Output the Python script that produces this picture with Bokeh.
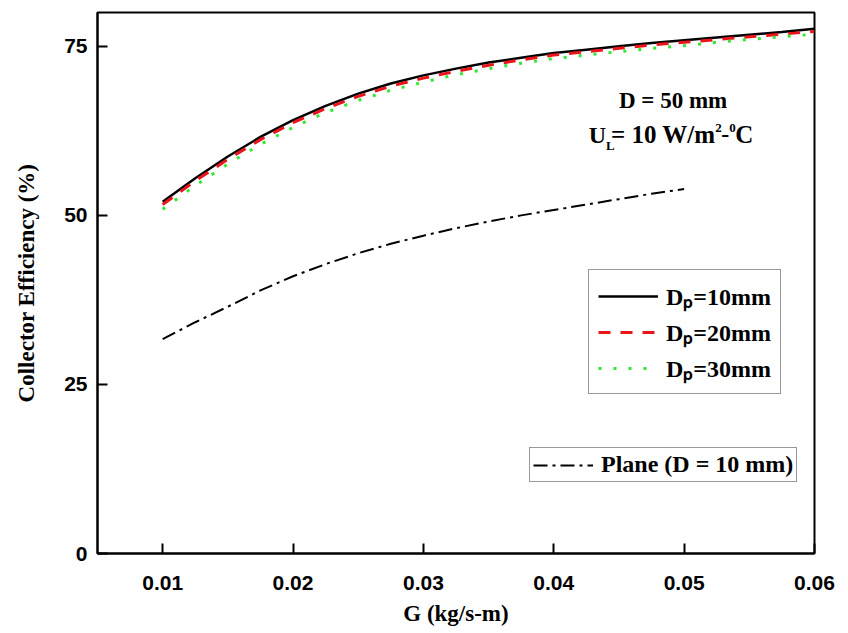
from bokeh.plotting import figure
from bokeh.models import Range1d, FixedTicker, Legend, LegendItem, Label
from bokeh.embed import file_html
from bokeh.resources import INLINE

# ---- data ----
G = [0.01, 0.0125, 0.015, 0.0175, 0.02, 0.0225, 0.025, 0.0275, 0.03, 0.0325, 0.035,
     0.0375, 0.04, 0.0425, 0.045, 0.0475, 0.05, 0.0525, 0.055, 0.0575, 0.06]
eff_dp10 = [52.0, 55.5, 58.7, 61.6, 64.1, 66.2, 68.0, 69.5, 70.7, 71.7, 72.6,
            73.3, 74.0, 74.5, 75.0, 75.5, 75.9, 76.3, 76.7, 77.1, 77.6]
eff_dp20 = [51.6, 55.1, 58.3, 61.2, 63.7, 65.8, 67.6, 69.1, 70.3, 71.3, 72.2,
            73.0, 73.7, 74.2, 74.7, 75.2, 75.6, 76.0, 76.4, 76.8, 77.2]
eff_dp30 = [50.9, 54.4, 57.6, 60.5, 63.0, 65.2, 67.0, 68.5, 69.7, 70.8, 71.7,
            72.5, 73.2, 73.7, 74.2, 74.7, 75.1, 75.6, 76.0, 76.4, 76.8]
G_plane = [0.01, 0.0125, 0.015, 0.0175, 0.02, 0.0225, 0.025, 0.0275, 0.03,
           0.0325, 0.035, 0.0375, 0.04, 0.0425, 0.045, 0.0475, 0.05]
eff_plane = [31.7, 34.2, 36.5, 38.9, 41.0, 42.8, 44.4, 45.8, 47.0,
             48.1, 49.1, 50.0, 50.8, 51.6, 52.4, 53.2, 53.9]

x_ticks = [0.01, 0.02, 0.03, 0.04, 0.05, 0.06]
x_tick_labels = ["0.01", "0.02", "0.03", "0.04", "0.05", "0.06"]
y_ticks = [0, 25, 50, 75]
y_tick_labels = ["0", "25", "50", "75"]

labels = ["Dₚ=10mm", "Dₚ=20mm", "Dₚ=30mm"]
plane_label = "Plane (D = 10 mm)"
x_title = "G (kg/s-m)"
y_title = "Collector Efficiency (%)"

SERIF = "Liberation Serif"
SANS = "Liberation Sans"

p = figure(width=848, height=633, output_backend="svg", toolbar_location=None,
           x_range=Range1d(0.005, 0.06), y_range=Range1d(0, 80),
           min_border_left=97, min_border_right=34, min_border_top=12,
           min_border_bottom=80)
p.grid.visible = False
p.outline_line_color = "black"
p.outline_line_width = 2
p.background_fill_color = "white"
p.border_fill_color = "white"

for ax in (p.xaxis[0], p.yaxis[0]):
    ax.axis_line_width = 2
    ax.axis_line_color = "black"
    ax.major_tick_in = 10
    ax.major_tick_out = 0
    ax.major_tick_line_width = 2
    ax.minor_tick_line_color = None
    ax.major_label_text_font = SANS
    ax.major_label_text_font_style = "bold"
    ax.major_label_text_font_size = "21px"
    ax.major_label_text_color = "black"
    ax.axis_label_text_font = SERIF
    ax.axis_label_text_font_style = "bold"
    ax.axis_label_text_font_size = "23px"
    ax.axis_label_text_color = "black"

p.xaxis[0].ticker = FixedTicker(ticks=x_ticks)
p.xaxis[0].major_label_overrides = {t: l for t, l in zip(x_ticks, x_tick_labels)}
p.yaxis[0].ticker = FixedTicker(ticks=y_ticks)
p.yaxis[0].major_label_overrides = {t: l for t, l in zip(y_ticks, y_tick_labels)}
p.xaxis[0].axis_label = x_title
p.yaxis[0].axis_label = y_title
p.xaxis[0].major_label_standoff = 22
p.xaxis[0].axis_label_standoff = 8
p.yaxis[0].major_label_standoff = 10
p.yaxis[0].axis_label_standoff = 22

r1 = p.line(G, eff_dp10, line_color="black", line_width=2.5)
r2 = p.line(G, eff_dp20, line_color="#e8151b", line_width=3, line_dash="12 10")
r3 = p.line(G, eff_dp30, line_color="#33e633", line_width=3, line_dash="3 12")
r4 = p.line(G_plane, eff_plane, line_color="black", line_width=2, line_dash="14 5 3 5")

def style_legend(lg, pad):
    lg.label_text_font = SERIF
    lg.label_text_font_style = "bold"
    lg.label_text_font_size = "24px"
    lg.label_text_color = "black"
    lg.border_line_color = "#333333"
    lg.border_line_width = 1
    lg.background_fill_alpha = 1
    lg.glyph_width = 60
    lg.label_standoff = 8
    lg.padding = pad
    lg.margin = 0

leg1 = Legend(items=[LegendItem(label=labels[0], renderers=[r1]),
                     LegendItem(label=labels[1], renderers=[r2]),
                     LegendItem(label=labels[2], renderers=[r3])],
              location=(491, 159))
style_legend(leg1, 9)
leg1.glyph_height = 24
leg1.label_height = 24
leg1.spacing = 3
p.add_layout(leg1)

leg2 = Legend(items=[LegendItem(label=plane_label, renderers=[r4])],
              location=(432, 71))
style_legend(leg2, 3)
leg2.glyph_height = 22
leg2.label_height = 22
p.add_layout(leg2)

def lab(x, y, text, size="23px", align="left"):
    p.add_layout(Label(x=x, y=y, text=text, text_font=SERIF, text_font_style="bold",
                       text_font_size=size, text_align=align,
                       text_baseline="alphabetic", text_color="black"))

# annotation text: D = 50 mm / U_L = 10 W/m^2-^0C
base = 61.9
sup = 62.9
lab(0.04915, 67.04, "D = 50 mm", align="center")
lab(0.04269, base, "U", size="24px")
lab(0.044000, 60.4, "L", size="13px")
lab(0.044385, base, "= 10 W/m", size="25px")
lab(0.052385, sup, "2", size="13px")
lab(0.052846, base, "-", size="24px")
lab(0.053462, sup, "0", size="13px")
lab(0.053923, base, "C", size="25px")

open("out.html", "w").write(file_html(p, INLINE))
